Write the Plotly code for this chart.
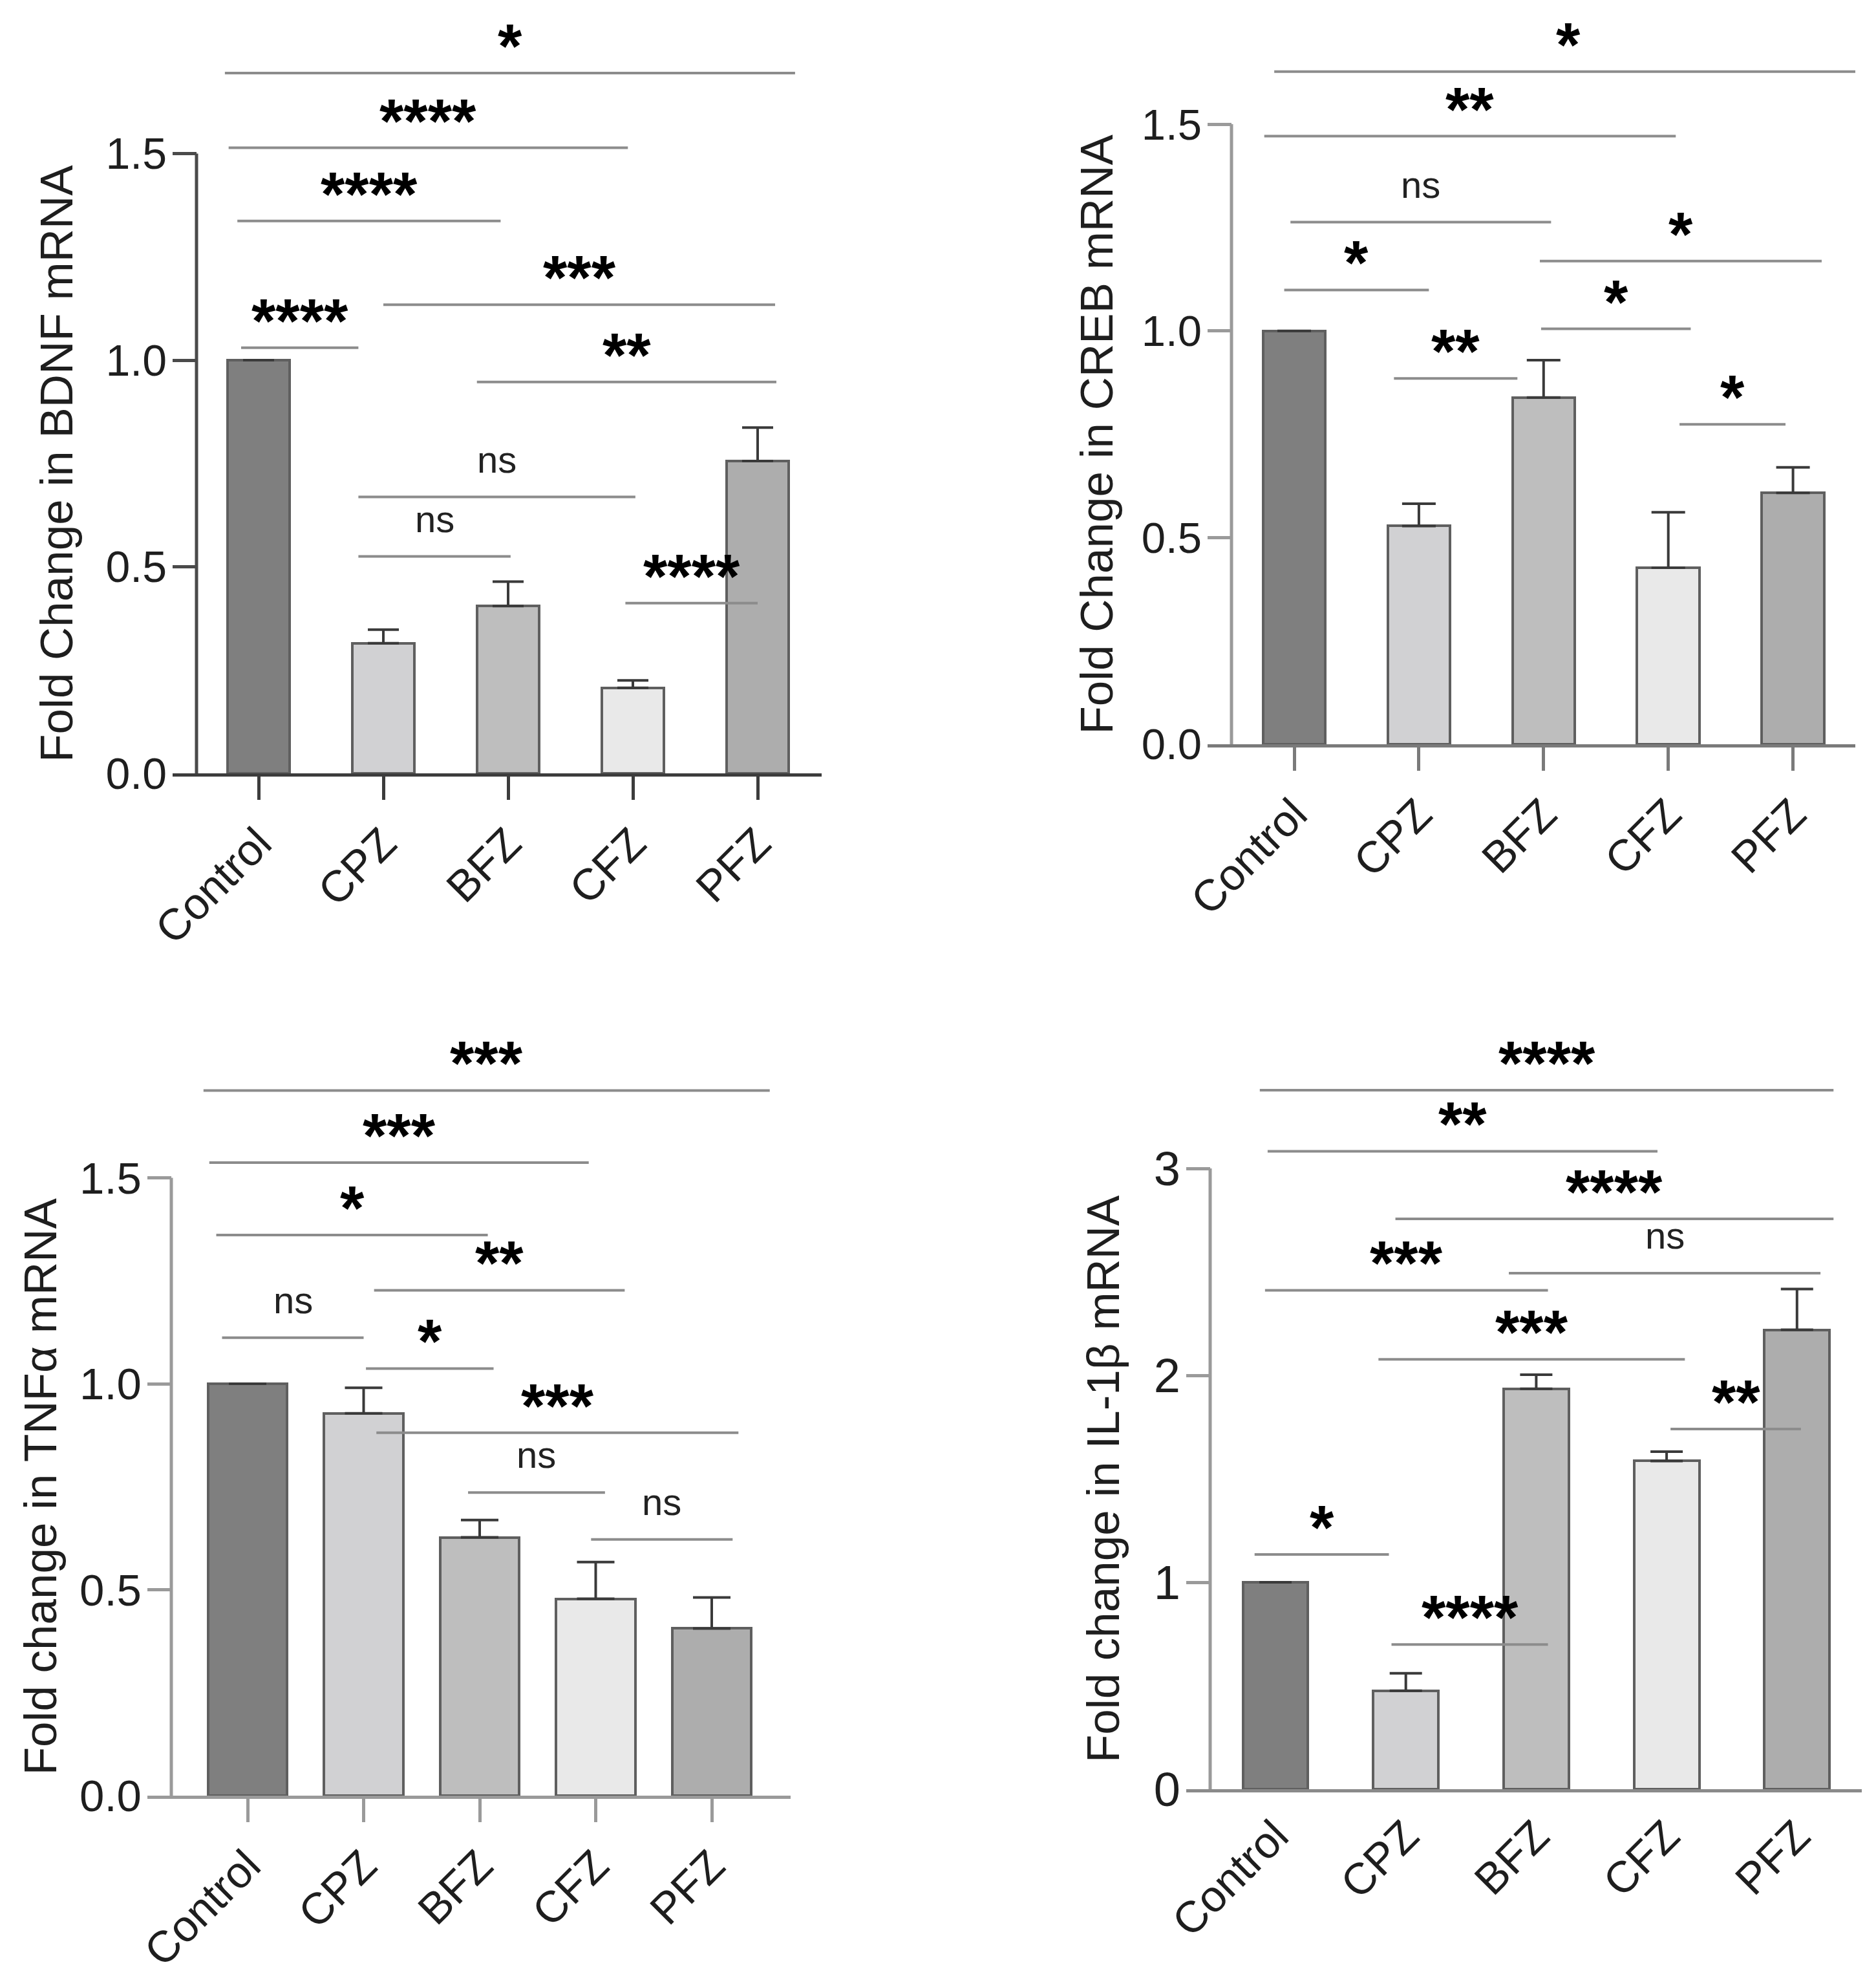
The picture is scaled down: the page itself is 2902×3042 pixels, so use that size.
import plotly.graph_objects as go

W, H = 2902, 3042

groups = ['Control', 'CPZ', 'BFZ', 'CFZ', 'PFZ']
bar_colors = ['#7f7f7f', '#d1d1d3', '#bebebe', '#e9e9e9', '#adadad']

# values (mean, upper SEM)
bdnf_mean = [1.0, 0.315, 0.405, 0.207, 0.756]
bdnf_sem = [None, 0.033, 0.059, 0.018, 0.081]
creb_mean = [1.0, 0.528, 0.839, 0.427, 0.608]
creb_sem = [None, 0.054, 0.090, 0.134, 0.062]
tnfa_mean = [1.0, 0.928, 0.627, 0.478, 0.406]
tnfa_sem = [None, 0.062, 0.042, 0.089, 0.075]
il1b_mean = [1.0, 0.476, 1.935, 1.586, 2.22]
il1b_sem = [None, 0.084, 0.068, 0.045, 0.197]

# significance bars: (start, end, height, label)
bdnf_sig = [(-0.27, 4.30, 1.695, '*'), (-0.24, 2.96, 1.514, '****'),
            (-0.17, 1.94, 1.337, '****'), (1.0, 4.14, 1.134, '***'),
            (-0.14, 0.80, 1.030, '****'), (1.75, 4.15, 0.947, '**'),
            (0.80, 3.02, 0.669, 'ns'), (0.80, 2.02, 0.525, 'ns'),
            (2.94, 4.0, 0.412, '****')]
creb_sig = [(-0.16, 4.56, 1.627, '*'), (-0.24, 3.06, 1.471, '**'),
            (-0.03, 2.06, 1.263, 'ns'), (1.97, 4.23, 1.169, '*'),
            (-0.08, 1.08, 1.099, '*'), (1.98, 3.18, 1.005, '*'),
            (0.80, 1.79, 0.885, '**'), (3.09, 3.94, 0.774, '*')]
tnfa_sig = [(-0.38, 4.50, 1.712, '***'), (-0.33, 2.94, 1.537, '***'),
            (-0.27, 2.07, 1.361, '*'), (1.09, 3.25, 1.227, '**'),
            (-0.22, 1.0, 1.112, 'ns'), (1.02, 2.12, 1.037, '*'),
            (1.11, 4.23, 0.881, '***'), (1.90, 3.08, 0.736, 'ns'),
            (2.96, 4.18, 0.622, 'ns')]
il1b_sig = [(-0.12, 4.28, 3.378, '****'), (-0.06, 2.93, 3.083, '**'),
            (0.92, 4.28, 2.756, '****'), (1.79, 4.18, 2.494, 'ns'),
            (-0.08, 2.09, 2.411, '***'), (0.79, 3.14, 2.077, '***'),
            (3.03, 4.03, 1.741, '**'), (-0.16, 0.87, 1.134, '*'),
            (0.89, 2.09, 0.699, '****')]

panels = [
    dict(mean=bdnf_mean, sem=bdnf_sem, sig=bdnf_sig,
         title='Fold Change in BDNF mRNA', tickvals=[0, 0.5, 1.0, 1.5],
         ticktext=['0.0', '0.5', '1.0', '1.5'],
         cat0=400, sp=193, yax=304, end=1271, y0=1196, ppu=639, top=14,
         title_x=88, bar_w=0.5, cap=24, xticks=True, tick_size=68,
         ycol='#4a4a4a', xcol='#3c3c3c'),
    dict(mean=creb_mean, sem=creb_sem, sig=creb_sig,
         title='Fold Change in CREB mRNA', tickvals=[0, 0.5, 1.0, 1.5],
         ticktext=['0.0', '0.5', '1.0', '1.5'],
         cat0=2002, sp=192.9, yax=1905, end=2870, y0=1151, ppu=639.3, top=14,
         title_x=1697, bar_w=0.5, cap=26, xticks=True, tick_size=67,
         ycol='#9a9a9a', xcol='#7a7a7a'),
    dict(mean=tnfa_mean, sem=tnfa_sem, sig=tnfa_sig,
         title='Fold change in TNFα mRNA', tickvals=[0, 0.5, 1.0, 1.5],
         ticktext=['0.0', '0.5', '1.0', '1.5'],
         cat0=383, sp=179.5, yax=265, end=1223, y0=2777, ppu=637, top=1560,
         title_x=62, bar_w=0.68, cap=29, xticks=True, tick_size=69,
         ycol='#9a9a9a', xcol='#9a9a9a'),
    dict(mean=il1b_mean, sem=il1b_sem, sig=il1b_sig,
         title='Fold change in IL-1β mRNA', tickvals=[0, 1, 2, 3],
         ticktext=['0', '1', '2', '3'],
         cat0=1973, sp=201.7, yax=1872, end=2880, y0=2767, ppu=320, top=1560,
         title_x=1706, bar_w=0.5, cap=25, xticks=False, tick_size=74,
         ycol='#9a9a9a', xcol='#8a8a8a'),
]

EXT = 37   # x-axis runs a little left of the y-axis, same as the y tick length
PAD = 8    # the page body margin shifts the figure by this much
FONT = 'Liberation Sans'


def fx(px):
    return (px - PAD) / W


def fy(px):
    return (H - (px - PAD)) / H


fig = go.Figure()
shapes = []
annotations = []

for i, p in enumerate(panels):
    n = '' if i == 0 else str(i + 1)
    xr, yr = 'x' + n, 'y' + n
    left = p['yax'] - EXT
    x_lo = (left - p['cat0']) / p['sp']
    x_hi = (p['end'] - p['cat0']) / p['sp']
    y_hi = (p['y0'] - p['top']) / p['ppu']
    yax_data = (p['yax'] - p['cat0']) / p['sp']
    ymax_tick = p['tickvals'][-1]

    fig.add_trace(go.Bar(
        x=list(range(len(groups))), y=p['mean'], width=p['bar_w'],
        marker=dict(color=bar_colors, line=dict(color='#5f5f5f', width=4)),
        error_y=dict(type='data', symmetric=False, array=p['sem'],
                     arrayminus=[0] * len(groups), color='#3a3a3a',
                     thickness=4, width=p['cap']),
        xaxis=xr, yaxis=yr, showlegend=False, hoverinfo='skip'))

    fig.update_layout(**{
        'xaxis' + n: dict(
            domain=[fx(left), fx(p['end'])], range=[x_lo, x_hi],
            anchor=yr, tickvals=list(range(len(groups))), ticktext=groups,
            tickangle=-45, ticks='outside' if p['xticks'] else '',
            ticklen=36, tickwidth=5, tickcolor=p['xcol'],
            showline=True, linecolor=p['xcol'], linewidth=5,
            showgrid=False, zeroline=False, automargin=False,
            tickfont=dict(family=FONT, size=68, color='#1e1e1e')),
        'yaxis' + n: dict(
            domain=[fy(p['y0']), fy(p['top'])], range=[0, y_hi],
            anchor=xr, tickvals=p['tickvals'], ticktext=p['ticktext'],
            ticks='inside', ticklen=EXT, tickwidth=5, tickcolor=p['ycol'],
            showline=False, showgrid=False, zeroline=False, automargin=False,
            ticklabelstandoff=8,
            tickfont=dict(family=FONT, size=p['tick_size'], color='#1e1e1e')),
    })

    # y-axis line stops at the top tick
    shapes.append(dict(type='line', xref=xr, yref=yr, x0=yax_data, x1=yax_data,
                       y0=0, y1=ymax_tick, line=dict(color=p['ycol'], width=5)))

    for x0, x1, yy, label in p['sig']:
        shapes.append(dict(type='line', xref=xr, yref=yr, x0=x0, x1=x1,
                           y0=yy, y1=yy, line=dict(color='#8c8c8c', width=4)))
        if label == 'ns':
            font = dict(family=FONT, size=58, color='#222222')
            shift = 24
        else:
            font = dict(family=FONT, size=96, color='#000000', weight='bold')
            shift = -13
        annotations.append(dict(text=label, xref=xr, yref=yr, x=(x0 + x1) / 2,
                                y=yy, xanchor='center', yanchor='bottom',
                                yshift=shift, showarrow=False, font=font))

    mid_px = p['y0'] - ymax_tick * p['ppu'] / 2
    annotations.append(dict(text=p['title'], xref='paper', yref='paper',
                            x=fx(p['title_x']), y=fy(mid_px),
                            xanchor='center', yanchor='middle', textangle=-90,
                            showarrow=False,
                            font=dict(family=FONT, size=71, color='#1e1e1e')))

fig.update_layout(width=W, height=H, margin=dict(l=0, r=0, t=0, b=0),
                  paper_bgcolor='white', plot_bgcolor='white',
                  shapes=shapes, annotations=annotations, showlegend=False,
                  bargap=0)

fig.write_html('out.html')
